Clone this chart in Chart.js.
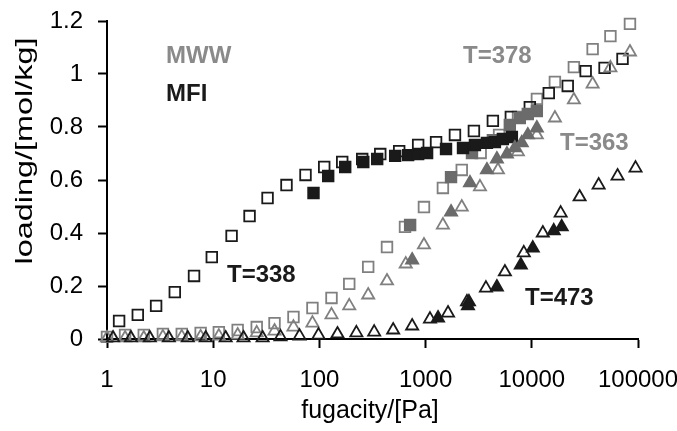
<!DOCTYPE html>
<html>
<head>
<meta charset="utf-8">
<script src="https://cdn.jsdelivr.net/npm/chart.js@4/dist/chart.umd.min.js"></script>
<style>
    html, body { margin: 0; padding: 0; background: #fff; }
    canvas { display: block; }
</style>
</head>
<body>
<canvas id="chart" width="677" height="431"></canvas>
<script>
// tick labels
const xTicks = [1, 10, 100, 1000, 10000, 100000]
const yTicks = [0, 0.2, 0.4, 0.6, 0.8, 1, 1.2]

// T=338, open squares
const t338SimF = [1.3, 1.95, 2.9, 4.35, 6.6, 9.7, 14.9, 22, 32.5, 49, 74, 111, 164, 253, 374, 564, 851, 1255, 1890, 2850, 4300, 6350, 9580, 14450, 21800, 32150, 48450, 71500]
const t338SimQ = [0.068, 0.091, 0.125, 0.177, 0.238, 0.309, 0.389, 0.464, 0.532, 0.581, 0.619, 0.649, 0.668, 0.679, 0.698, 0.709, 0.732, 0.743, 0.770, 0.785, 0.823, 0.838, 0.875, 0.928, 0.955, 1.011, 1.023, 1.057]
// T=338, filled squares
const t338ExpF = [88, 121, 175, 259, 350, 517, 685, 851, 1033, 1557, 2250, 2915, 3780, 4495, 5340, 6490]
const t338ExpQ = [0.551, 0.615, 0.649, 0.668, 0.679, 0.691, 0.694, 0.698, 0.702, 0.717, 0.721, 0.732, 0.740, 0.743, 0.755, 0.762]

// T=378, open squares
const t378SimF = [1, 1.48, 2.22, 3.36, 5.06, 7.62, 11.3, 17, 25.7, 37.8, 57, 86, 130, 191, 288, 433, 640, 965, 1455, 2190, 3300, 4920, 7420, 11180, 16500, 24900, 37400, 55000, 84000]
const t378SimQ = [0.008, 0.015, 0.015, 0.019, 0.019, 0.023, 0.026, 0.034, 0.045, 0.060, 0.083, 0.117, 0.155, 0.208, 0.272, 0.347, 0.423, 0.498, 0.570, 0.638, 0.702, 0.770, 0.838, 0.906, 0.970, 1.026, 1.094, 1.143, 1.189]
// T=378, filled squares
const t378ExpF = [715, 1736, 2734, 4300, 6210, 7710, 9170, 11150]
const t378ExpQ = [0.430, 0.611, 0.702, 0.750, 0.808, 0.834, 0.849, 0.860]

// T=363, open triangles
const t363SimF = [1, 1.48, 2.22, 3.36, 5.06, 7.62, 11.3, 17, 25.7, 37.8, 57, 86, 130, 191, 288, 433, 650, 965, 1455, 2190, 3250, 4800, 7400, 11150, 16500, 24900, 37400, 55000, 84000]
const t363SimQ = [0.004, 0.004, 0.004, 0.008, 0.008, 0.008, 0.011, 0.015, 0.023, 0.030, 0.045, 0.060, 0.091, 0.125, 0.166, 0.219, 0.283, 0.355, 0.430, 0.498, 0.574, 0.638, 0.706, 0.770, 0.834, 0.902, 0.962, 1.023, 1.083]
// T=363, filled triangles
const t363ExpF = [747, 1736, 2618, 3780, 4690, 5830, 6920, 8050, 9170, 11150]
const t363ExpQ = [0.298, 0.479, 0.589, 0.638, 0.679, 0.698, 0.721, 0.740, 0.770, 0.796]

// T=473, open triangles
const t473SimF = [1.14, 1.68, 2.53, 3.82, 5.76, 8.5, 13.1, 19.3, 29.2, 43, 65, 98, 148, 223, 328, 495, 747, 1100, 1626, 2453, 3700, 5580, 8410, 12700, 18700, 28200, 42600, 64200, 94800]
const t473SimQ = [0.004, 0.004, 0.004, 0.004, 0.004, 0.004, 0.004, 0.004, 0.004, 0.008, 0.011, 0.015, 0.019, 0.023, 0.026, 0.034, 0.049, 0.075, 0.098, 0.140, 0.192, 0.253, 0.325, 0.400, 0.475, 0.536, 0.581, 0.615, 0.645]
// T=473, filled triangles
const t473ExpF = [1309, 2506, 2560, 4690, 7880, 10220, 16100, 19130]
const t473ExpQ = [0.079, 0.125, 0.140, 0.196, 0.279, 0.343, 0.408, 0.423]

const BLACK = '#1a1a1a'
const GRAY = '#808080'
const GRAY_FILL = '#6b6b6b'
const FONT = "'Liberation Sans', Arial, sans-serif"

function points(f, q) {
    return f.map((v, i) => ({ x: v, y: q[i] }))
}

function set(f, q, style, color, filled) {
    return {
        data: points(f, q),
        pointStyle: style,
        pointRadius: style == 'rect' ? 7.5 : 7,
        pointHoverRadius: style == 'rect' ? 7.5 : 7,
        pointBorderWidth: 1.8,
        pointBorderColor: color,
        pointBackgroundColor: filled ? color : 'rgba(0,0,0,0)',
        showLine: false,
        clip: false
    }
}

// first dataset ends on top
const datasets = [
    set(t473ExpF, t473ExpQ, 'triangle', BLACK, true),
    set(t363ExpF, t363ExpQ, 'triangle', GRAY_FILL, true),
    set(t338ExpF, t338ExpQ, 'rect', BLACK, true),
    set(t378ExpF, t378ExpQ, 'rect', GRAY_FILL, true),
    set(t473SimF, t473SimQ, 'triangle', BLACK, false),
    set(t363SimF, t363SimQ, 'triangle', GRAY, false),
    set(t338SimF, t338SimQ, 'rect', BLACK, false),
    set(t378SimF, t378SimQ, 'rect', GRAY, false)
]

const labels = [
    { text: 'MWW', x: 166, y: 63, color: '#8a8a8a' },
    { text: 'MFI', x: 166, y: 101, color: BLACK },
    { text: 'T=378', x: 463, y: 63, color: '#8a8a8a' },
    { text: 'T=363', x: 560, y: 150, color: '#8a8a8a' },
    { text: 'T=338', x: 227, y: 282, color: BLACK },
    { text: 'T=473', x: 525, y: 305, color: BLACK }
]

const textPlugin = {
    id: 'texts',
    afterDraw(chart) {
        const ctx = chart.ctx
        ctx.save()
        ctx.textBaseline = 'alphabetic'
        ctx.textAlign = 'left'
        ctx.font = 'bold 24px ' + FONT
        labels.forEach(l => {
            ctx.fillStyle = l.color
            ctx.fillText(l.text, l.x, l.y)
        })

        ctx.fillStyle = '#000'
        ctx.font = '25px ' + FONT
        ctx.textAlign = 'center'
        ctx.textBaseline = 'middle'
        ctx.fillText('fugacity/[Pa]', 370, 411)

        // y title is stretched along its length in the original
        ctx.font = '24px ' + FONT
        ctx.translate(25, 151)
        ctx.rotate(-Math.PI / 2)
        ctx.scale(1.35, 1)
        ctx.fillText('loading/[mol/kg]', 0, 0)
        ctx.restore()
    }
}

const axisGrid = { drawOnChartArea: false, drawTicks: true, tickLength: 9, tickColor: '#000', tickWidth: 2 }

new Chart(document.getElementById('chart'), {
    type: 'scatter',
    data: { datasets: datasets },
    options: {
        responsive: false,
        animation: false,
        layout: { padding: { left: 0, right: 0, top: 21, bottom: 0 } },
        plugins: { legend: { display: false }, tooltip: { enabled: false } },
        scales: {
            x: {
                type: 'logarithmic',
                min: 1,
                max: 100000,
                afterBuildTicks: s => { s.ticks = xTicks.map(v => ({ value: v })) },
                afterFit: s => { s.height = 431 - 339; s.paddingLeft = 0; s.paddingRight = 677 - 638 },
                ticks: { color: '#000', font: { family: FONT, size: 24 }, padding: 18, maxRotation: 0, callback: v => String(v) },
                grid: axisGrid,
                border: { color: '#000', width: 2 }
            },
            y: {
                min: 0,
                max: 1.2,
                afterBuildTicks: s => { s.ticks = yTicks.map(v => ({ value: v })) },
                afterFit: s => { s.width = 107; s.paddingTop = 0; s.paddingBottom = 0 },
                ticks: { color: '#000', font: { family: FONT, size: 24 }, padding: 15, callback: v => String(v) },
                grid: axisGrid,
                border: { color: '#000', width: 2 }
            }
        }
    },
    plugins: [textPlugin]
})
</script>
</body>
</html>
